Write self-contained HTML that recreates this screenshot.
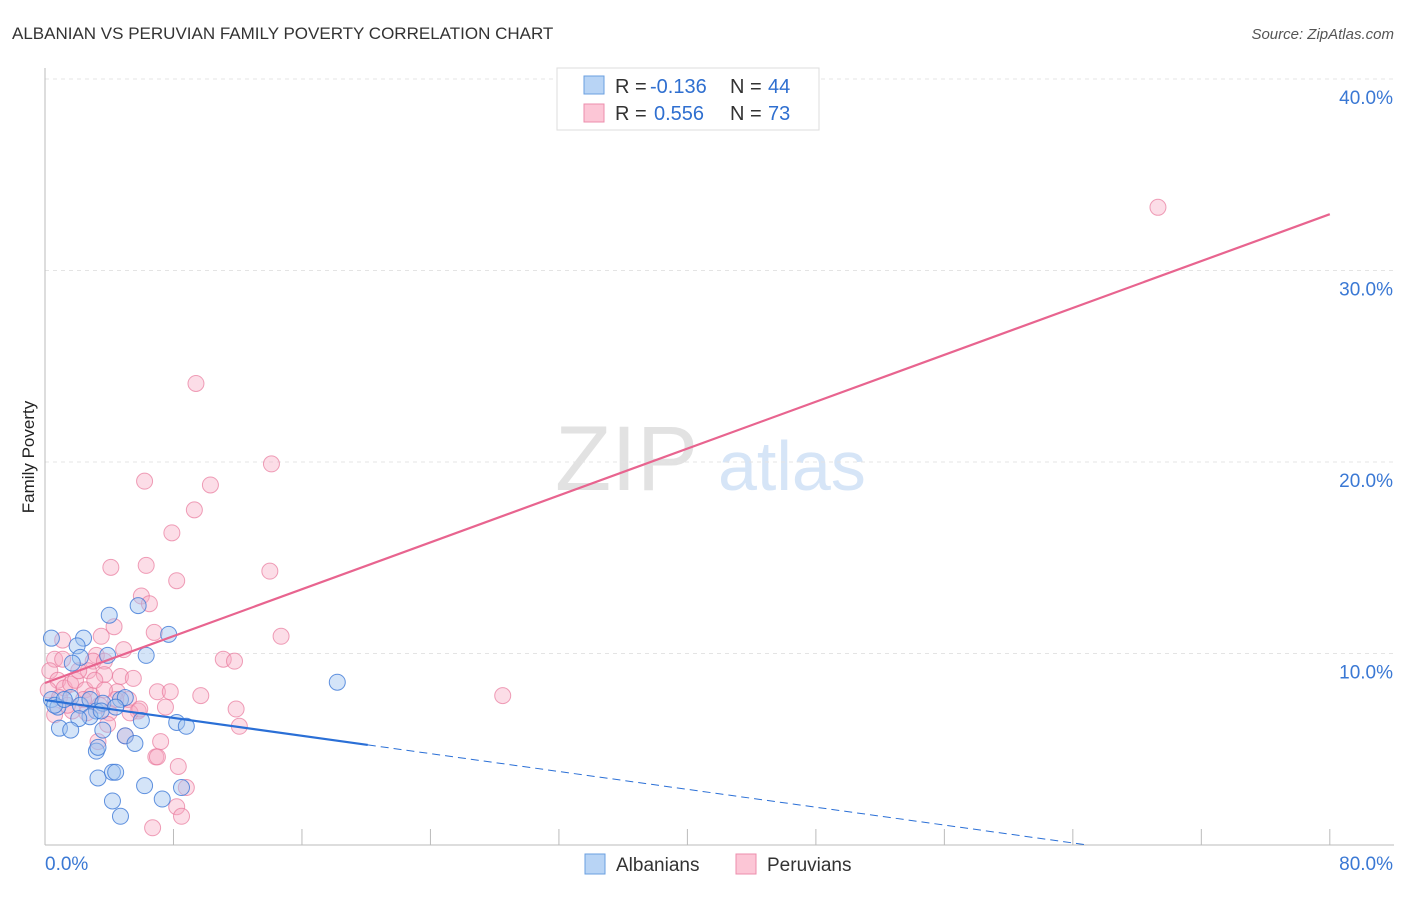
<!DOCTYPE html>
<html><head><meta charset="utf-8"><style>
body{margin:0;background:#fff;font-family:"Liberation Sans",sans-serif}
svg text{font-family:"Liberation Sans",sans-serif}
</style></head><body>
<svg id="c" width="1406" height="892" xmlns="http://www.w3.org/2000/svg">
<text x="12" y="39" font-size="17" fill="#333">ALBANIAN VS PERUVIAN FAMILY POVERTY CORRELATION CHART</text>
<text x="1394" y="39" font-size="15" fill="#555" font-style="italic" text-anchor="end">Source: ZipAtlas.com</text>
<text x="34" y="457" font-size="17" fill="#222" transform="rotate(-90 34 457)" text-anchor="middle">Family Poverty</text>
<text x="555" y="490" font-size="92" fill="#e2e2e2" font-family="Liberation Serif">ZIP</text>
<text x="718" y="490" font-size="70" fill="#d6e5f7">atlas</text>
<g id="grid"></g><g id="axes"></g><g id="pts"></g><g id="lines"></g>
<g>
<rect x="557" y="68" width="262" height="62" fill="#fff" stroke="#ddd"/>
<rect x="584" y="76" width="20" height="18" fill="#b8d4f5" stroke="#6a9fe0"/>
<rect x="584" y="104" width="20" height="18" fill="#fcc6d6" stroke="#ec8eac"/>
<text x="615" y="93" font-size="20" fill="#333">R =</text>
<text x="650" y="93" font-size="20" fill="#2f6fd0">-0.136</text>
<text x="730" y="93" font-size="20" fill="#333">N =</text>
<text x="768" y="93" font-size="20" fill="#2f6fd0">44</text>
<text x="615" y="120" font-size="20" fill="#333">R =</text>
<text x="654" y="120" font-size="20" fill="#2f6fd0">0.556</text>
<text x="730" y="120" font-size="20" fill="#333">N =</text>
<text x="768" y="120" font-size="20" fill="#2f6fd0">73</text>
</g>
<g>
<rect x="585" y="854" width="20" height="20" fill="#b8d4f5" stroke="#6a9fe0"/>
<text x="616" y="871" font-size="19" fill="#333">Albanians</text>
<rect x="736" y="854" width="20" height="20" fill="#fcc6d6" stroke="#ec8eac"/>
<text x="767" y="871" font-size="19" fill="#333">Peruvians</text>
</g>
</svg>
<script>
const yTicks=[10,20,30,40];
const xTickLabels=["0.0%","80.0%"];
const blueX=[0.4,2.4,2.0,4.0,5.8,7.7,6.3,2.2,1.7,3.9,0.4,0.8,1.6,2.2,2.8,3.2,3.6,4.7,5.0,2.8,2.1,3.5,4.4,6.0,8.2,8.8,0.9,1.6,3.6,5.0,5.6,3.2,3.3,3.3,4.2,4.4,6.2,7.3,8.5,4.2,4.7,18.2,0.6,1.2];
const blueY=[10.8,10.8,10.4,12.0,12.5,11.0,9.9,9.8,9.5,9.9,7.6,7.2,7.7,7.3,7.6,7.0,7.4,7.6,7.7,6.7,6.6,7.0,7.2,6.5,6.4,6.2,6.1,6.0,6.0,5.7,5.3,4.9,5.1,3.5,3.8,3.8,3.1,2.4,3.0,2.3,1.5,8.5,7.3,7.6];
const pinkX=[69.3,9.4,14.1,6.2,10.3,9.3,7.9,4.1,6.3,8.2,14.0,6.0,6.5,4.3,6.8,14.7,3.5,4.9,3.2,3.0,3.7,11.1,11.8,2.7,3.7,4.7,5.5,7.0,7.8,9.7,28.5,4.5,5.2,7.5,5.8,11.9,12.1,5.0,3.3,7.2,6.9,7.0,8.3,8.2,8.8,8.5,6.7,1.1,0.6,0.3,0.8,1.2,0.2,0.9,1.6,1.9,2.5,2.9,3.4,4.0,5.3,5.9,4.4,2.4,1.7,1.4,0.6,3.1,3.7,2.1,1.1,2.6,3.9];
const pinkY=[33.3,24.1,19.9,19.0,18.8,17.5,16.3,14.5,14.6,13.8,14.3,13.0,12.6,11.4,11.1,10.9,10.9,10.2,9.9,9.6,9.6,9.7,9.6,9.1,8.9,8.8,8.7,8.0,8.0,7.8,7.8,8.0,7.6,7.2,7.0,7.1,6.2,5.7,5.4,5.4,4.6,4.6,4.1,2.0,3.0,1.5,0.9,10.7,9.7,9.1,8.6,8.2,8.1,7.7,8.4,8.6,8.1,7.8,7.3,6.9,6.9,7.1,7.6,7.6,7.0,7.3,6.8,8.6,8.1,9.1,9.7,6.9,6.3];
const blueLine=[7.57,-0.1166]; const pinkLine=[8.46,0.306];
const X=v=>45+v*16.06, Y=v=>845-v*19.15, NS="http://www.w3.org/2000/svg";
function mk(p,t,a){const e=document.createElementNS(NS,t);for(const k in a)e.setAttribute(k,a[k]);p.appendChild(e);return e;}
const grid=document.getElementById('grid'),axes=document.getElementById('axes');
yTicks.forEach(t=>{const l=mk(grid,'line',{x1:45,x2:1394,y1:Y(t),y2:Y(t),stroke:'#e4e4e4','stroke-dasharray':'4 4'});


const tx=mk(grid,'text',{x:1393,y:Y(t)+25,'font-size':19,fill:'#3a78d4','text-anchor':'end'});tx.textContent=t+'.0%';

});
mk(axes,'line',{x1:45,x2:45,y1:68,y2:845,stroke:'#bbb'});
mk(axes,'line',{x1:45,x2:1394,y1:845,y2:845,stroke:'#bbb'});
for(let i=1;i<=10;i++){mk(axes,'line',{x1:X(i*8),x2:X(i*8),y1:829,y2:845,stroke:'#bbb'});}
const x0=mk(axes,'text',{x:45,y:870,'font-size':19,fill:'#3a78d4'});x0.textContent=xTickLabels[0];


const x1=mk(axes,'text',{x:1393,y:870,'font-size':19,fill:'#3a78d4','text-anchor':'end'});x1.textContent=xTickLabels[1];


const pts=document.getElementById('pts');
pinkX.forEach((v,i)=>{const c=mk(pts,'circle',{cx:X(v),cy:Y(pinkY[i]),r:8,fill:'rgba(248,170,195,0.4)',stroke:'rgba(232,120,155,0.7)'});

});
blueX.forEach((v,i)=>{const c=mk(pts,'circle',{cx:X(v),cy:Y(blueY[i]),r:8,fill:'rgba(160,195,240,0.45)',stroke:'rgba(60,120,215,0.8)'});

});
const ln=document.getElementById('lines');
const pl=mk(ln,'line',{x1:X(0),y1:Y(pinkLine[0]),x2:X(80),y2:Y(pinkLine[0]+80*pinkLine[1]),stroke:'#e8648f','stroke-width':2.2});


const xe=-blueLine[0]/blueLine[1];
const bl=mk(ln,'line',{x1:X(0),y1:Y(blueLine[0]),x2:X(20.1),y2:Y(blueLine[0]+20.1*blueLine[1]),stroke:'#2a6fd6','stroke-width':2.2});


const bd=mk(ln,'line',{x1:X(20.1),y1:Y(blueLine[0]+20.1*blueLine[1]),x2:X(xe),y2:Y(0),stroke:'#2a6fd6','stroke-width':1,'stroke-dasharray':'8 5'});


</script>
</body></html>
